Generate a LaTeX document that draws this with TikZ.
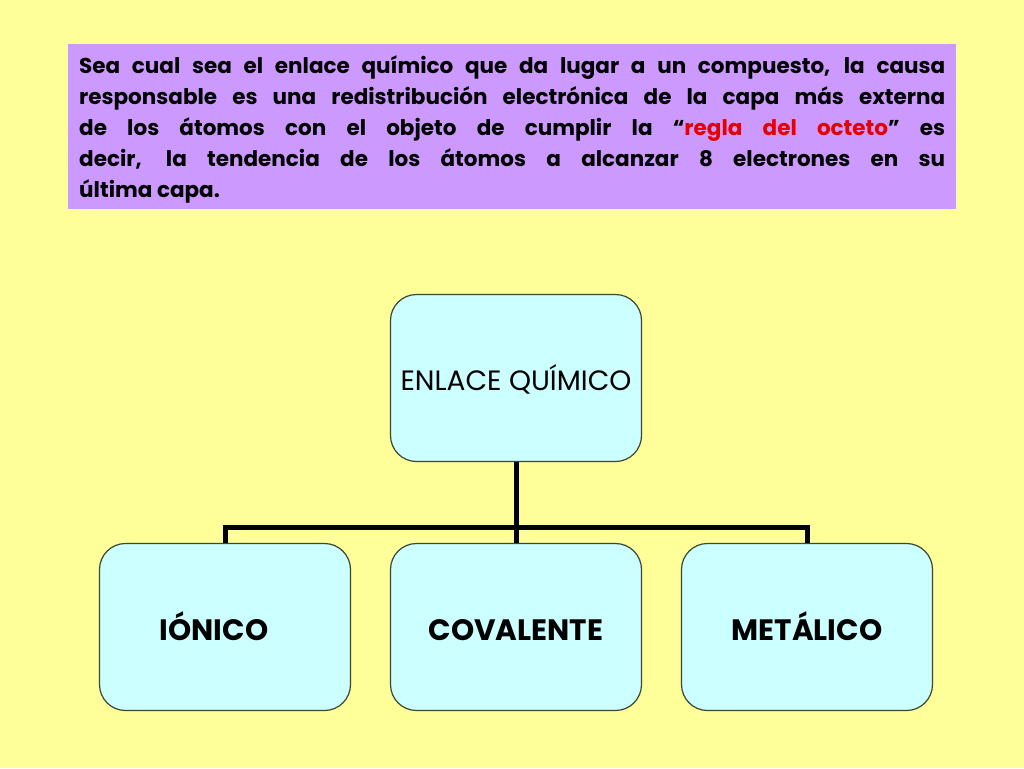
\documentclass[tikz,border=0pt]{standalone}
\usepackage{fontspec}
\setmainfont{Poppins}
\definecolor{bgyellow}{RGB}{255,255,153}
\definecolor{boxpurple}{RGB}{204,153,255}
\definecolor{boxcyan}{RGB}{204,255,255}
\definecolor{boxedge}{RGB}{60,70,50}
\definecolor{octred}{RGB}{230,0,0}
\begin{document}
\begin{tikzpicture}[x=1pt,y=-1pt,
  cbox/.style={draw=boxedge,line width=1.2pt,fill=boxcyan,rounded corners=26pt,
    minimum width=251pt,minimum height=167pt,inner sep=0pt,align=center,
    text depth=0pt},
  conn/.style={line width=5pt,draw=black},
  toplabel/.style={font=\fontsize{28}{32}\selectfont,text height=24pt},
  botlabel/.style={font=\fontsize{29.5}{34}\selectfont\bfseries,text height=26pt}]
\useasboundingbox[fill=bgyellow] (0,0) rectangle (1024,768);
\node[fill=boxpurple,inner sep=0pt,minimum width=888pt,minimum height=165pt,anchor=north west] (intro) at (68,44) {};
\node[anchor=north west,inner sep=0pt,text width=866pt,align=justify,
  font=\fontsize{21.5}{31}\selectfont\bfseries] (introtext) at (79,55)
  {Sea cual sea el enlace químico que da lugar a un compuesto, la causa\linebreak
   responsable es una redistribución electrónica de la capa más externa\linebreak
   de los átomos con el objeto de cumplir la “\textcolor{octred}{regla del octeto}” es\linebreak
   decir, la tendencia de los átomos a alcanzar 8 electrones en su\linebreak
   última capa.};
\node[cbox,toplabel] (top) at (516,378) {ENLACE QUÍMICO};
\node[cbox,botlabel] (ion) at (225,627) {\hspace*{-22pt}IÓNICO};
\node[cbox,botlabel] (cov) at (516,627) {COVALENTE};
\node[cbox,botlabel] (met) at (807,627) {METÁLICO};
\coordinate (bus) at (516,527);
\draw[conn] (top.south) -- (cov.north);
\draw[conn] (ion.north) |- (bus) -| (met.north);
\end{tikzpicture}
\end{document}
